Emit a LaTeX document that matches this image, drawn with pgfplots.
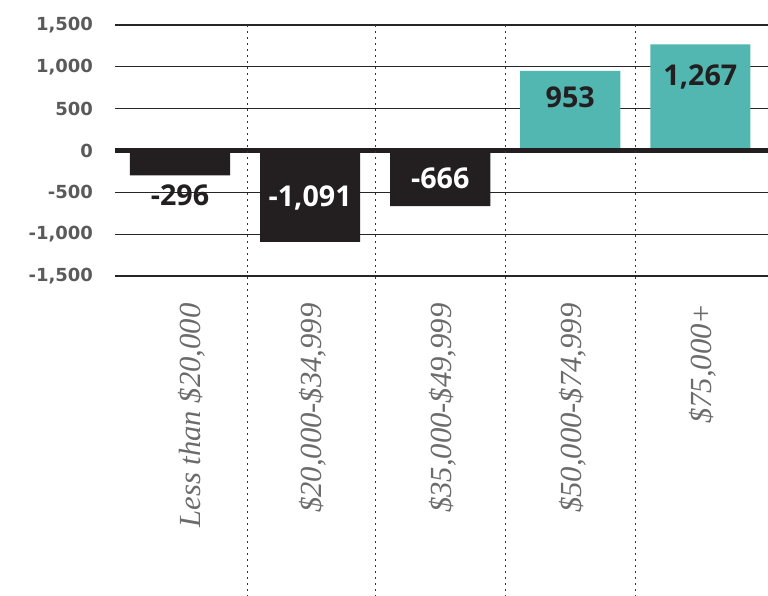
\documentclass[border=0pt]{standalone}
\usepackage{fontspec}
\usepackage{pgfplots}
\pgfplotsset{compat=1.18}
\newfontfamily\tickfont{DejaVu Sans}
\newfontfamily\valfont{Open Sans}
\newfontfamily\labfont{Liberation Serif}
\definecolor{darkbar}{HTML}{231F20}
\definecolor{tealbar}{HTML}{52B6B1}
\definecolor{tickgray}{HTML}{5A5A5A}
\definecolor{labgray}{HTML}{6B6B6B}
\newcommand\shiftlab[1]{\smash{\raisebox{-7pt}{\rlap{#1}}}\phantom{#1}}
\begin{document}
\begin{tikzpicture}
\useasboundingbox (-86.25pt,-240pt) rectangle (489.75pt,207pt);
\begin{axis}[
  at={(0,0)}, anchor=south west,
  scale only axis, width=489.75pt, height=188.25pt,
  xmin=-0.5, xmax=4.52, ymin=-1500, ymax=1500,
  clip=false,
  axis line style={draw=none},
  major tick length=0pt,
  ytick={-1500,-1000,-500,0,500,1000,1500},
  yticklabels={-1{,}500,-1{,}000,-500,0,500,1{,}000,1{,}500},
  yticklabel style={font=\tickfont\bfseries\fontsize{13.5}{16}\selectfont, text=tickgray, xshift=-13pt},
  ymajorgrids,
  grid style={draw=black!85, line width=0.8pt},
  xtick={0,1,2,3,4},
  xticklabels={\shiftlab{Less than \$20{,}000},\$20{,}000-\$34{,}999,\$35{,}000-\$49{,}999,\$50{,}000-\$74{,}999,\$75{,}000+},
  xticklabel style={yshift=-17pt, xshift=2pt, rotate=90, anchor=east, font=\labfont\itshape\fontsize{23}{27}\selectfont, text=labgray},
  bar width=0.77,
]
\addplot[ybar, fill=darkbar, draw=none] coordinates {(0,-296) (1,-1091) (2,-666)};
\addplot[ybar, fill=tealbar, draw=none] coordinates {(3,953) (4,1267)};
% zero line
\addplot[darkbar, line width=3.5pt] coordinates {(-0.5,0) (4.52,0)};
% dotted separators
\pgfplotsinvokeforeach{0.52,1.5,2.5,3.5}{
  \draw[black!80, line width=0.8pt, dash pattern=on 1.5pt off 3pt] (axis cs:#1,1500) -- (axis cs:#1,-5330);
}
% value labels
\addplot[only marks, mark=none, nodes near coords, point meta=explicit symbolic,
  every node near coord/.append style={anchor=center, text=darkbar, font=\valfont\bfseries\fontsize{21.5}{25}\selectfont}]
  table[meta=lab] {
x y lab
0 -538 -296
3 633 953
4 873 1{,}267
};
\addplot[only marks, mark=none, nodes near coords, point meta=explicit symbolic,
  every node near coord/.append style={anchor=center, text=white, font=\valfont\bfseries\fontsize{21.5}{25}\selectfont}]
  table[meta=lab] {
x y lab
1 -562 -1{,}091
2 -335 -666
};
\end{axis}
\end{tikzpicture}
\end{document}
